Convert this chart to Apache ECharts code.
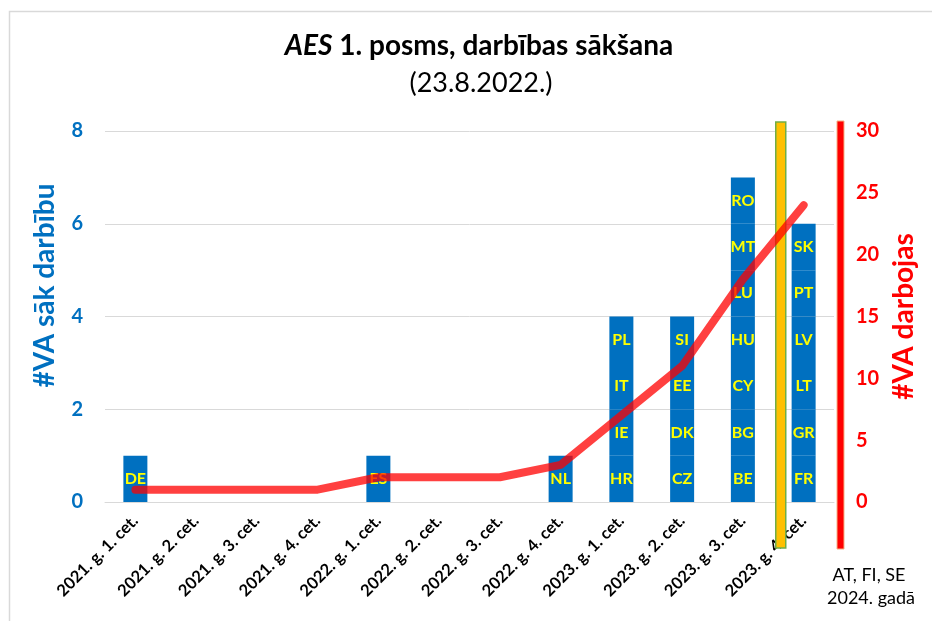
<!DOCTYPE html>
<html><head><meta charset="utf-8">
<script src="https://cdn.jsdelivr.net/npm/echarts@6/dist/echarts.min.js"></script>
<style>html,body{margin:0;padding:0;background:#fff}#c{width:932px;height:621px}</style>
</head><body><div id="c"></div>
<script>
const categories = ['2021. g. 1. cet.','2021. g. 2. cet.','2021. g. 3. cet.','2021. g. 4. cet.',
  '2022. g. 1. cet.','2022. g. 2. cet.','2022. g. 3. cet.','2022. g. 4. cet.',
  '2023. g. 1. cet.','2023. g. 2. cet.','2023. g. 3. cet.','2023. g. 4. cet.'];
const newStarts = [1,0,0,0,1,0,0,1,4,4,7,6];
const operating = [1,1,1,1,2,2,2,3,7,11,18,24];
const countries = [['DE'],[],[],[],['ES'],[],[],['NL'],
  ['HR','IE','IT','PL'],['CZ','DK','EE','SI'],['BE','BG','CY','HU','LU','MT','RO'],['FR','GR','LT','LV','PT','SK']];
const leftAxis = {min:0, max:8, interval:2};
const rightAxis = {min:0, max:30, interval:5};
const titleItalic = 'AES';
const titleRest = ' 1. posms, darbības sākšana';
const subtitleText = '(23.8.2022.)';
const noteLines = ['AT, FI, SE','2024. gadā'];

const FONT = 'Lato, "Noto Sans", sans-serif';
const chart = echarts.init(document.getElementById('c'), null, {renderer:'canvas'});

const maxStack = Math.max(...newStarts);
const barSeries = [];
for (let k = 0; k < maxStack; k++) {
  barSeries.push({
    type:'bar', stack:'va', yAxisIndex:0, barWidth:24, z:2,
    itemStyle:{color:'#0070C0'},
    data: categories.map((c,i)=> k < newStarts[i] ? 1 : '-'),
    label:{show:true, position:'inside', color:'#FFFF00', fontFamily:FONT, fontWeight:'bold', fontSize:16,
      formatter: (p)=> countries[p.dataIndex][k] || ''},
    emphasis:{disabled:true}, silent:true
  });
}

const option = {
  animation:false,
  backgroundColor:'#fff',
  title:[
    {left:474, top:27, textAlign:'center',
      text: '{i|' + titleItalic + '}{b|' + titleRest + '}',
      textStyle:{rich:{
        i:{fontFamily:FONT, fontSize:28, fontWeight:'bold', fontStyle:'italic', color:'#000'},
        b:{fontFamily:FONT, fontSize:28, fontWeight:'bold', color:'#000'}}}},
    {left:476, top:65, textAlign:'center', text:subtitleText,
      textStyle:{fontFamily:FONT, fontSize:27, fontWeight:'normal', color:'#000'}}
  ],
  grid:{left:105, right:98, top:131, bottom:119, containLabel:false},
  xAxis:{type:'category', data:categories,
    axisLine:{show:true, lineStyle:{color:'#D9D9D9', width:1}},
    axisTick:{show:false},
    axisLabel:{rotate:45, interval:0, margin:16, color:'#000', fontFamily:FONT, fontWeight:'bold', fontSize:16.5}},
  yAxis:[
    {type:'value', min:leftAxis.min, max:leftAxis.max, interval:leftAxis.interval, position:'left',
      name:'#VA sāk darbību', nameLocation:'middle', nameGap:46, nameRotate:90,
      nameTextStyle:{color:'#0070C0', fontFamily:FONT, fontWeight:'bold', fontSize:28, padding:[0,0,0,62]},
      axisLine:{show:false}, axisTick:{show:false},
      axisLabel:{margin:22, color:'#0070C0', fontFamily:FONT, fontWeight:'bold', fontSize:20},
      splitLine:{show:true, lineStyle:{color:'#D9D9D9', width:1}}},
    {type:'value', min:rightAxis.min, max:rightAxis.max, interval:rightAxis.interval, position:'right', offset:6,
      name:'#VA darbojas', nameLocation:'middle', nameGap:48, nameRotate:90,
      nameTextStyle:{color:'#FF0000', fontFamily:FONT, fontWeight:'bold', fontSize:28},
      axisLine:{show:false}, axisTick:{show:false},
      axisLabel:{margin:16, color:'#FF0000', fontFamily:FONT, fontWeight:'bold', fontSize:20},
      splitLine:{show:false}}
  ],
  series:[...barSeries,
    {type:'line', yAxisIndex:1, data:operating, z:10, symbol:'none', smooth:false,
      lineStyle:{color:'rgba(255,0,0,0.75)', width:8, cap:'round', join:'round'}, silent:true}
  ]
};
chart.setOption(option);

const x10 = chart.convertToPixel({xAxisIndex:0}, categories[10]);
const x11 = chart.convertToPixel({xAxisIndex:0}, categories[11]);
const band = x11 - x10;
const boundary = x10 + band/2;
const gridRight = x11 + band/2;
const yTop = chart.convertToPixel({yAxisIndex:0}, leftAxis.max);
const yZero = chart.convertToPixel({yAxisIndex:0}, leftAxis.min);

chart.setOption({graphic:[
  {type:'rect', z:0, silent:true, shape:{x:9.5, y:11.5, width:1000, height:700},
    style:{fill:'none', stroke:'#D9D9D9', lineWidth:1.5}},
  {type:'rect', z:5, silent:true, shape:{x:boundary+2.5, y:yTop-9, width:10, height:(yZero+46)-(yTop-9)},
    style:{fill:'#FFC000', stroke:'#70AD47', lineWidth:1.5}},
  {type:'rect', z:5, silent:true, shape:{x:gridRight+3, y:yTop-10, width:7, height:(yZero+47)-(yTop-10)},
    style:{fill:'#FF0000', stroke:'#F4B183', lineWidth:1}},
  {type:'text', z:5, silent:true, x:869, y:575, style:{text:noteLines[0], textAlign:'center', textVerticalAlign:'middle',
    fontFamily:FONT, fontSize:18, fill:'#000'}},
  {type:'text', z:5, silent:true, x:871, y:598, style:{text:noteLines[1], textAlign:'center', textVerticalAlign:'middle',
    fontFamily:FONT, fontSize:18, fill:'#000'}}
]});
</script></body></html>
